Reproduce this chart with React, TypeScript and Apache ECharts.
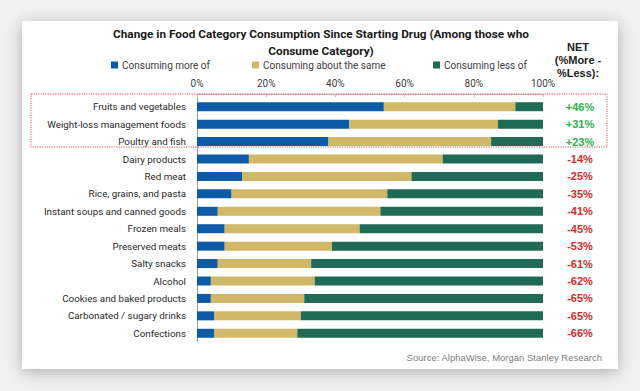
import React, { useEffect, useRef } from "react";
import * as echarts from "echarts";

const categories = [
  "Fruits and vegetables",
  "Weight-loss management foods",
  "Poultry and fish",
  "Dairy products",
  "Red meat",
  "Rice, grains, and pasta",
  "Instant soups and canned goods",
  "Frozen meals",
  "Preserved meats",
  "Salty snacks",
  "Alcohol",
  "Cookies and baked products",
  "Carbonated / sugary drinks",
  "Confections",
];
const moreOf = [54, 44, 38, 15, 13, 10, 6, 8, 8, 6, 4, 4, 5, 5];
const aboutSame = [38, 43, 47, 56, 49, 45, 47, 39, 31, 27, 30, 27, 25, 24];
const lessOf = [8, 13, 15, 29, 38, 45, 47, 53, 61, 67, 66, 69, 70, 71];
const netValues = [46, 31, 23, -14, -25, -35, -41, -45, -53, -61, -62, -65, -65, -66];
const seriesNames = ["Consuming more of", "Consuming about the same", "Consuming less of"];
const tickValues = [0, 20, 40, 60, 80, 100];

const COLORS = ["#0d5aa7", "#d1b869", "#1f6b56"];

export default function App() {
  const ref = useRef<HTMLDivElement>(null);
  useEffect(() => {
    if (!ref.current) return;
    const chart = echarts.init(ref.current, undefined, { renderer: "svg" });
    const netLabels = netValues.map((v) => (v > 0 ? "+" + v + "%" : v + "%"));
    const legendLefts = [106, 247, 428];
    const option: any = {
      animation: false,
      backgroundColor: "#f1f1f1",
      title: {
        text: "Change in Food Category Consumption Since Starting Drug (Among those who\nConsume Category)",
        left: 316,
        top: 20,
        textAlign: "center",
        textStyle: {
          fontFamily: "Roboto",
          fontWeight: "bold",
          fontSize: 11.8,
          lineHeight: 17,
          color: "#1a1a1a",
        },
      },
      legend: seriesNames.map((n, i) => ({
        data: [n],
        left: legendLefts[i],
        top: 55,
        icon: "rect",
        itemWidth: 7,
        itemHeight: 7,
        textStyle: { fontFamily: "Roboto", fontSize: 10, color: "#404040", padding: [0, 0, 0, -1] },
        selectedMode: false,
      })),
      grid: { left: 197, right: 97, top: 98, height: 244 },
      xAxis: {
        type: "value",
        position: "top",
        min: 0,
        max: 100,
        interval: 20,
        offset: 4,
        splitLine: { show: false },
        axisLine: { show: true, lineStyle: { color: "#bdbdbd" } },
        axisTick: { show: true, inside: true, length: 3, lineStyle: { color: "#bdbdbd" } },
        axisLabel: {
          margin: 6,
          fontFamily: "Roboto",
          fontSize: 10,
          color: "#404040",
          formatter: (v: number) => (tickValues.includes(v) ? v + "%" : ""),
        },
      },
      yAxis: [
        {
          type: "category",
          data: categories,
          inverse: true,
          axisLine: { show: true, lineStyle: { color: "#9a9a9a" } },
          axisTick: { show: false },
          axisLabel: { margin: 11, fontFamily: "Roboto", fontSize: 9.8, color: "#2a2a2a" },
        },
        {
          type: "category",
          data: netLabels,
          inverse: true,
          position: "right",
          axisLine: { show: false },
          axisTick: { show: false },
          axisLabel: {
            margin: 37,
            align: "center",
            fontFamily: "Liberation Sans",
            fontWeight: "bold",
            fontSize: 11,
            color: (_v: string, i: number) => (netValues[i] > 0 ? "#2fb14b" : "#d42b2b"),
          },
        },
      ],
      series: [moreOf, aboutSame, lessOf].map((d, i) => ({
        name: seriesNames[i],
        type: "bar",
        stack: "total",
        data: d,
        barWidth: 9,
        itemStyle: { color: COLORS[i] },
      })),
      color: COLORS,
      graphic: [
        {
          type: "rect",
          z: -10,
          shape: { x: 22, y: 21, width: 596, height: 348 },
          style: {
            fill: "#ffffff",
            shadowBlur: 16,
            shadowColor: "rgba(0,0,0,0.28)",
            shadowOffsetY: 3,
          },
          silent: true,
        },
        {
          type: "rect",
          z: 100,
          shape: { x: 31, y: 94, width: 576, height: 53 },
          style: { fill: "none", stroke: "#e5545a", lineWidth: 1, lineDash: [1.2, 1.2] },
          silent: true,
        },
        {
          type: "text",
          x: 578,
          y: 60,
          style: {
            text: "NET\n(%More -\n%Less):",
            fontFamily: "Liberation Sans",
            fontWeight: "bold",
            fontSize: 11,
            lineHeight: 13,
            fill: "#222222",
            align: "center",
            verticalAlign: "middle",
          },
        },
        {
          type: "text",
          x: 602,
          y: 357,
          style: {
            text: "Source: AlphaWise, Morgan Stanley Research",
            fontFamily: "Liberation Sans",
            fontSize: 9.5,
            fill: "#808080",
            align: "right",
            verticalAlign: "middle",
          },
        },
      ],
    };
    chart.setOption(option);
    return () => chart.dispose();
  }, []);
  return (
    <div
      ref={ref}
      style={{ position: "fixed", left: 0, top: 0, width: 640, height: 391 }}
    />
  );
}
